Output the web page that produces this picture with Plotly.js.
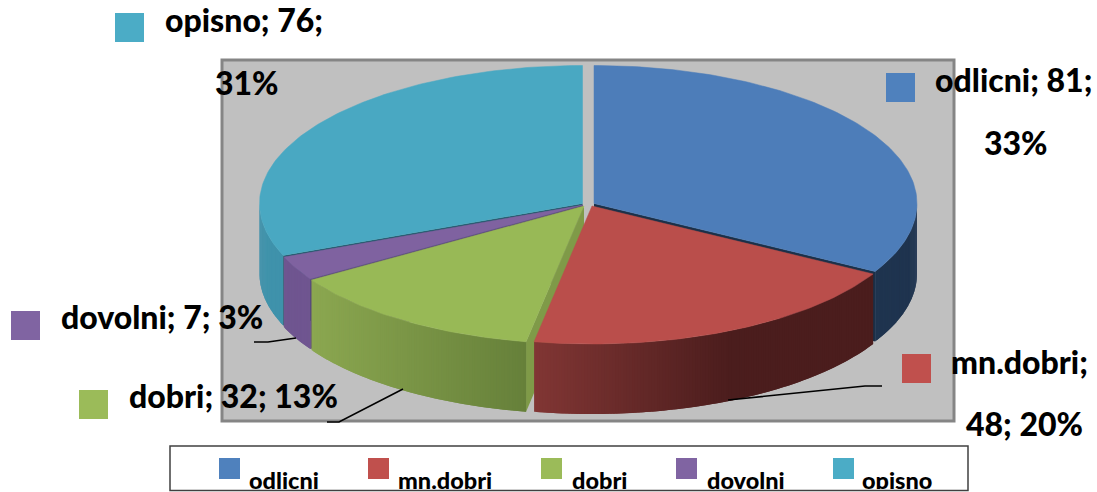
<!DOCTYPE html>
<html><head><meta charset="utf-8"><script src="https://cdn.plot.ly/plotly-3.0.1.min.js"></script>
<style>html,body{margin:0;padding:0;background:#fff;overflow:hidden}#c{width:1097px;height:492px}</style></head>
<body><div id="c"></div><script>
const categories=["odlicni","mn.dobri","dobri","dovolni","opisno"];
const values=[81,48,32,7,76];
const topColors=["#4d7db9","#ba4e4b","#98b956","#7f62a0","#49a8c2"];
const keyColors=["#4f81bd","#c0504d","#9bbb59","#8064a2","#4bacc6"];
const sideLeft=["#1f344f","#813634","#8ba750","#6f5590","#3f92ab"];
const sideRight=["#1f344f","#4b1d1d","#66803a","#6f5590","#3f92ab"];
const wallColors=["#1b3048","#4b1d1d","#7f9a48","#5a4577","#1f5566"];
const centersX=[594,592,584,583,582.5];
const centersY=[203.5,206,206,205,203.5];
const radiusX=323, radiusY=138, depth=70;
const legendKeyX=[219,368,541,676,833], legendTextX=[249,398,572,707,862];
const labelKeyX=[886,902,79,11,115], labelKeyY=[73,354,390,311,13];
const labelLines=[
 [[933,79,"odlicni; 81;"],[982,142,"33%"]],
 [[949,361,"mn.dobri;"],[964,423,"48; 20%"]],
 [[127,395,"dobri; 32; 13%"]],
 [[59,316,"dovolni; 7; 3%"]],
 [[163,19,"opisno; 76;"],[213,82,"31%"]]];
const leaders=[[[728,865,882],[400,386,386]],[[327,339,403],[422,422,389]],[[254,268,296],[342,342,338]]];
const total=values.reduce((a,b)=>a+b,0);
const rad=d=>d*Math.PI/180;
let start=0;const slices=values.map((v,i)=>{const s=start;start+=v/total*360;return {i,a0:s,a1:start,cx:centersX[i],cy:centersY[i]};});
const px=(s,a)=>s.cx+radiusX*Math.sin(rad(a)), py=(s,a)=>s.cy-radiusY*Math.cos(rad(a));
const traces=[];
function poly(xs,ys,color,lw){traces.push({type:"scatter",mode:"lines",x:xs,y:ys,fill:"toself",fillcolor:color,line:{color:color,width:lw||0},hoverinfo:"skip",showlegend:false});}
const hex=c=>[1,3,5].map(k=>parseInt(c.substr(k,2),16));
function mix(a,b,t){const A=hex(a),B=hex(b);return "rgb("+A.map((v,k)=>Math.round(v+(B[k]-v)*t)).join(",")+")";}
function drawSide(s){
 const lo=Math.max(s.a0,90),hi=Math.min(s.a1,270);
 if(hi<=lo)return;
 const n=Math.ceil((hi-lo)*2),x0=px(s,hi),x1=px(s,lo);
 for(let k=0;k<n;k++){
  const a=hi-(hi-lo)*k/n,b0=hi-(hi-lo)*(k+1)/n,b=Math.max(lo,b0-0.5);
  const xs=[],ys=[];
  for(let q=0;q<=3;q++){const t=a+(b-a)*q/3;xs.push(px(s,t));ys.push(py(s,t));}
  for(let q=3;q>=0;q--){const t=a+(b-a)*q/3;xs.push(px(s,t));ys.push(py(s,t)+depth);}
  xs.push(xs[0]);ys.push(ys[0]);
  let f=(px(s,(a+b0)/2)-x0)/Math.max(1,x1-x0);
  if(s.i===1)f=Math.min(1,f/0.58);
  poly(xs,ys,mix(sideLeft[s.i],sideRight[s.i],f),0);
 }
}
function drawWall(s,a){poly([s.cx,px(s,a),px(s,a),s.cx,s.cx],[s.cy,py(s,a),py(s,a)+depth,s.cy+depth,s.cy],wallColors[s.i]);}
function drawTop(s){const xs=[s.cx],ys=[s.cy];const n=Math.ceil(s.a1-s.a0);
 for(let k=0;k<=n;k++){const t=s.a0+(s.a1-s.a0)*k/n;xs.push(px(s,t));ys.push(py(s,t));}
 xs.push(s.cx);ys.push(s.cy);poly(xs,ys,topColors[s.i],0.5);}
const [sB,sR,sG,sP,sT]=slices;
drawSide(sT);drawSide(sB);drawWall(sT,sT.a0);drawWall(sB,sB.a1);drawTop(sT);drawTop(sB);
drawSide(sP);drawWall(sP,sP.a0);drawTop(sP);
drawWall(sG,sG.a0);drawSide(sG);drawTop(sG);
drawSide(sR);drawTop(sR);
leaders.forEach(l=>traces.push({type:"scatter",mode:"lines",x:l[0],y:l[1],line:{color:"#000",width:1.6},hoverinfo:"skip",showlegend:false}));
traces.push({type:"scatter",mode:"markers",x:legendKeyX.map(v=>v+10.5),y:categories.map(()=>468.5),marker:{symbol:"square",size:21,color:keyColors,line:{width:0}},hoverinfo:"skip",showlegend:false});
traces.push({type:"scatter",mode:"markers",x:labelKeyX.map(v=>v+14.5),y:labelKeyY.map(v=>v+14.5),marker:{symbol:"square",size:29,color:keyColors,line:{width:0}},hoverinfo:"skip",showlegend:false});
traces.push({type:"scatter",mode:"text",x:legendTextX,y:categories.map(()=>483.5),text:categories,textposition:"middle right",textfont:{family:"Lato",size:23.5,color:"#000",weight:900},cliponaxis:true,hoverinfo:"skip",showlegend:false});
const annotations=[];
labelLines.forEach(ls=>ls.forEach(l=>annotations.push({xref:"x",yref:"y",x:l[0],y:l[1],text:l[2],showarrow:false,xanchor:"left",yanchor:"middle",font:{family:"Lato",size:32,color:"#000",weight:900}})));
const H=489;
const layout={width:1097,height:492,margin:{l:0,r:0,t:0,b:3,pad:0},paper_bgcolor:"#fff",plot_bgcolor:"rgba(0,0,0,0)",showlegend:false,
 xaxis:{range:[0,1097],visible:false,fixedrange:true},yaxis:{range:[H,0],visible:false,fixedrange:true},
 annotations,
 shapes:[
  {type:"rect",layer:"below",xref:"x",yref:"y",x0:222,x1:954,y0:60,y1:421,fillcolor:"#c0c0c0",line:{color:"#858585",width:3}},
  {type:"rect",layer:"below",xref:"paper",yref:"paper",x0:170/1097,x1:968/1097,y0:(H-490.5)/H,y1:(H-446)/H,fillcolor:"#fff",line:{color:"#404040",width:1.5}}
 ]};
Plotly.newPlot("c",traces,layout,{displayModeBar:false,staticPlot:true});
</script></body></html>
